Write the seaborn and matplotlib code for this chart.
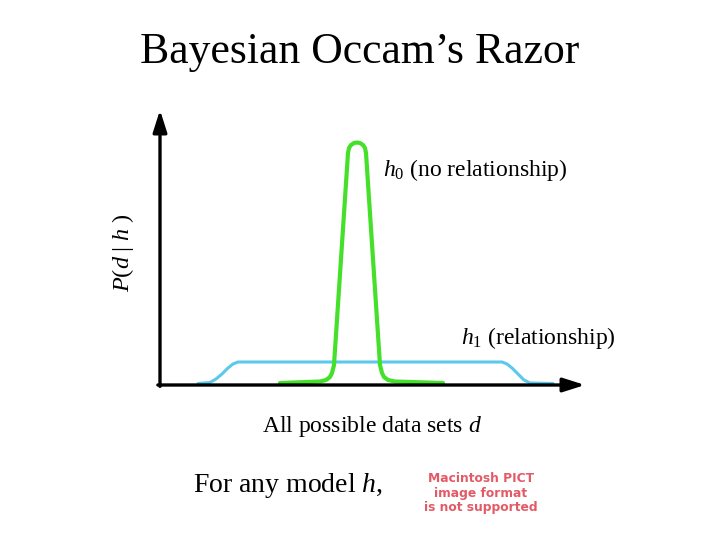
import matplotlib
matplotlib.use("Agg")
import matplotlib.pyplot as plt
import seaborn as sns
import pandas as pd

# ---- data ----
h1_x = [38, 50, 56, 62, 68, 73, 78, 342, 347, 352, 358, 364, 370, 393]
h1_y = [1.5, 2.5, 6, 11, 17, 21, 23, 23, 21, 17, 11, 5, 2, 1.5]

h0_x = [120, 160, 166, 170, 172, 174, 188, 189, 191, 194, 197, 200, 203, 205, 206,
        220, 222, 224, 228, 235, 283]
h0_y = [2, 3.5, 5, 8, 12, 20, 232, 237, 240, 242, 242.5, 242, 240, 237, 232,
        20, 12, 8, 5, 3.5, 2]

title = "Bayesian Occam\u2019s Razor"
ylabel = r"$P(d\ |\ h\ )$"
xlabel = r"All possible data sets $d$"
h0_label = r"$h_0$ (no relationship)"
h1_label = r"$h_1$ (relationship)"
footer = r"For any model $h$,"
pict_lines = ["Macintosh PICT", "image format", "is not supported"]

sns.set_theme(style="white")
plt.rcParams["font.family"] = ["Liberation Serif", "DejaVu Serif"]
plt.rcParams["mathtext.fontset"] = "custom"
plt.rcParams["mathtext.rm"] = "Liberation Serif"
plt.rcParams["mathtext.it"] = "Liberation Serif:italic"
plt.rcParams["mathtext.bf"] = "Liberation Serif:bold"
plt.rcParams["text.color"] = "black"

W, H = 720, 540
fig = plt.figure(figsize=(7.2, 5.4), dpi=100)
fig.patch.set_facecolor("white")

def fx(px):
    return px / W

def fy(py):
    return 1 - py / H

ax = fig.add_axes([fx(160), fy(385), 425 / W, 275 / H])
ax.set_xlim(0, 425)
ax.set_ylim(0, 275)
ax.set_facecolor("none")
for s in ax.spines.values():
    s.set_visible(False)

df1 = pd.DataFrame({"x": h1_x, "y": h1_y})
df0 = pd.DataFrame({"x": h0_x, "y": h0_y})
sns.lineplot(data=df1, x="x", y="y", ax=ax, color="#5BC9EB", linewidth=2.2,
             sort=False, solid_joinstyle="round", solid_capstyle="round")
sns.lineplot(data=df0, x="x", y="y", ax=ax, color="#44E02A", linewidth=3.0,
             sort=False, solid_joinstyle="round", solid_capstyle="round")
ax.set_xticks([])
ax.set_yticks([])
ax.set_xlabel("")
ax.set_ylabel("")

# axes arrows
arrow_kw = dict(arrowstyle="-|>,head_length=1.1,head_width=0.35", color="black",
                lw=2.4, shrinkA=0, shrinkB=0)
ax.annotate("", xy=(1.0, 0.0), xytext=(-0.005, 0.0), xycoords="axes fraction",
            textcoords="axes fraction", arrowprops=arrow_kw, annotation_clip=False)
ax.annotate("", xy=(0.0, 1.0), xytext=(0.0, -0.005), xycoords="axes fraction",
            textcoords="axes fraction", arrowprops=arrow_kw, annotation_clip=False)

# texts
fig.text(fx(360), fy(63), title, ha="center", va="baseline", fontsize=31.5)
fig.text(fx(123), fy(253), ylabel, ha="center", va="center", rotation=90, fontsize=17.5)
fig.text(fx(383), fy(176), h0_label, ha="left", va="baseline", fontsize=17)
fig.text(fx(461), fy(344), h1_label, ha="left", va="baseline", fontsize=17)
fig.text(fx(262), fy(432), xlabel, ha="left", va="baseline", fontsize=17)
fig.text(fx(193), fy(492), footer, ha="left", va="baseline", fontsize=20)
for line, ypx in zip(pict_lines, [479, 493, 507]):
    fig.text(fx(481), fy(ypx), line, ha="center", va="center", fontsize=8.8,
             fontweight="bold", color="#E35A66", family="DejaVu Sans")

fig.savefig("out.png", dpi=100, facecolor="white")
